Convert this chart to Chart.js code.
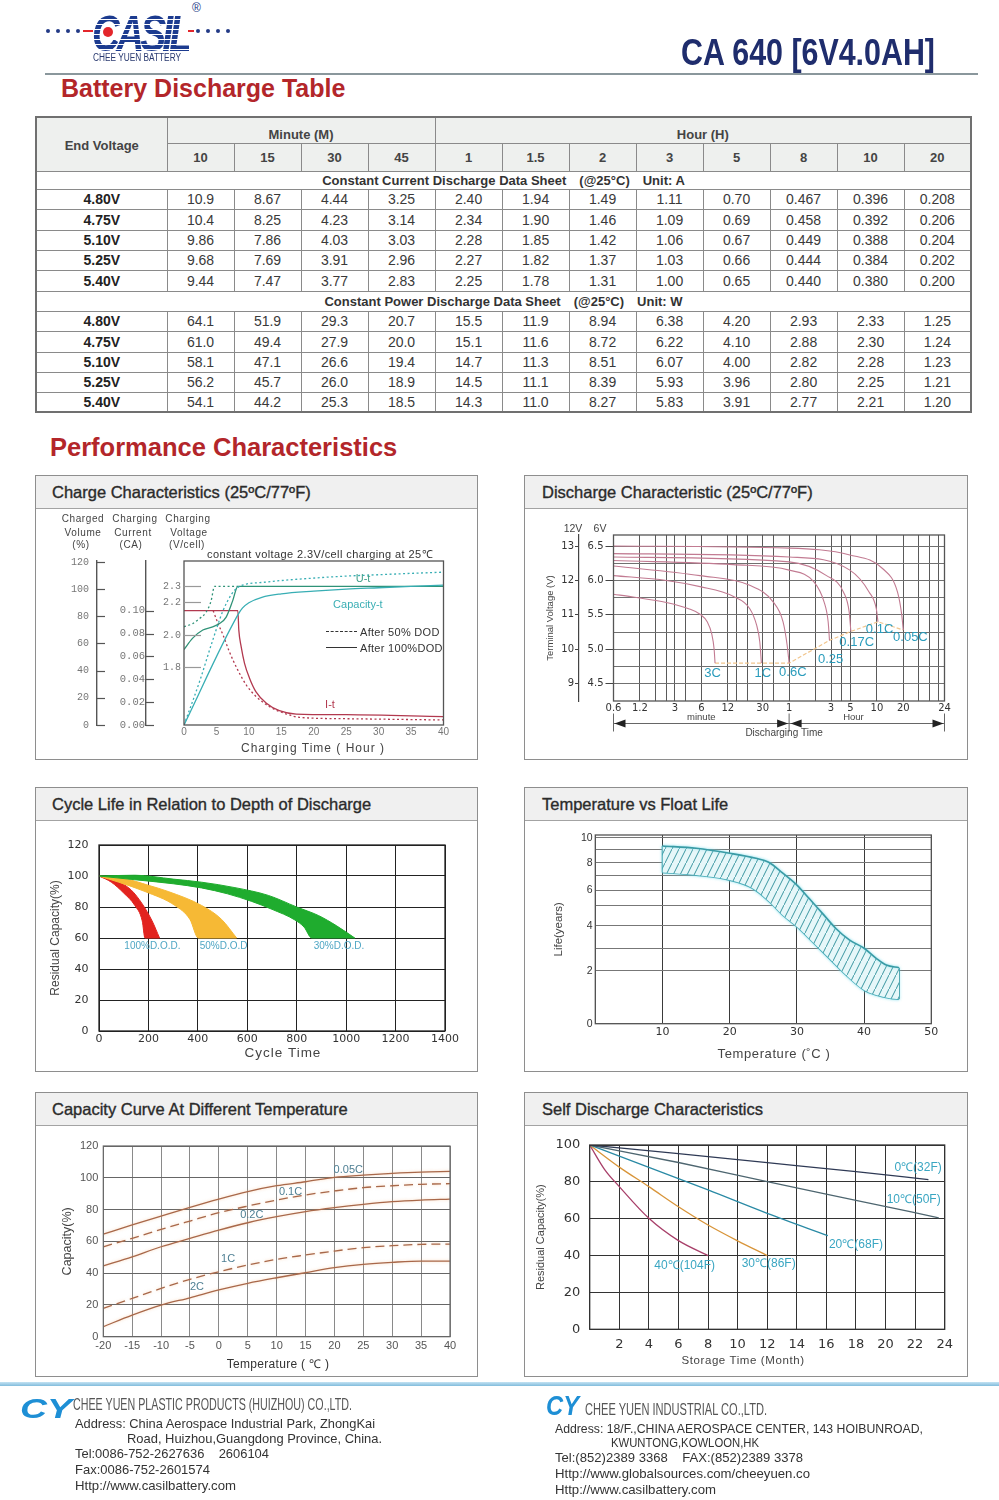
<!DOCTYPE html>
<html>
<head>
<meta charset="utf-8">
<title>CA 640 [6V4.0AH] Battery Discharge Table</title>
<script src="https://cdn.jsdelivr.net/npm/chart.js@4.4.1/dist/chart.umd.min.js"></script>
<style>
body{margin:0;background:#fff;font-family:'Liberation Sans',Arial,sans-serif;color:#333}
#page{position:relative;width:999px;height:1500px;overflow:hidden}
.a{position:absolute;white-space:nowrap;line-height:1}
.c{transform:translate(-50%,-50%)}
.m{transform:translateY(-50%)}
.dot{position:absolute;width:4px;height:4px;border-radius:50%;background:#233a86}
.panel{position:absolute;height:285px;border:1px solid #8e8e8e;box-sizing:border-box}
.panel .hd{height:33px;background:#f0f0f0;border-bottom:1px solid #a3a3a3;box-sizing:border-box;font-size:16.5px;line-height:32px;padding-left:16px;color:#2b2b2b;-webkit-text-stroke:.35px #2b2b2b}
.L{left:35px;width:443px}
.R{left:524px;width:444px}
.R .hd{padding-left:17px}
canvas{position:absolute}
.sm{font-size:10px;letter-spacing:.6px;color:#444}
.ft{font-size:13px;color:#333}
#tbl{position:absolute;left:35px;top:116px;width:935px;border-collapse:collapse;table-layout:fixed;border:2px solid #707070;font-size:14px;color:#3a3a3a}
#tbl td{border:1px solid #8a8a8a;text-align:center;padding:0}
#tbl tr.h td{background:#eef0ee;font-size:13px;font-weight:bold;color:#444}
#tbl tr.s td{font-size:13px;font-weight:bold;color:#333}
#tbl tr.s span{margin-left:13px}
#tbl td.v{font-weight:bold;color:#222}
</style>
</head>
<body>
<div id="page">

  <!-- logo -->
  <div class="dot" style="left:46px;top:29px"></div>
  <div class="dot" style="left:56px;top:29px"></div>
  <div class="dot" style="left:66px;top:29px"></div>
  <div class="dot" style="left:76px;top:29px"></div>
  <div class="a" style="left:83px;top:30px;width:10px;height:2px;background:#e3262b"></div>
  <div class="a" style="left:188px;top:30px;width:6px;height:2px;background:#e3262b"></div>
  <div class="dot" style="left:196px;top:29px"></div>
  <div class="dot" style="left:206px;top:29px"></div>
  <div class="dot" style="left:216px;top:29px"></div>
  <div class="dot" style="left:226px;top:29px"></div>
  <div class="a" data-w="97" style="left:92px;top:5px;font:italic bold 50px 'Liberation Sans';letter-spacing:-5px;background:repeating-linear-gradient(#1c3b8f 0 4px,#fff 4px 5px);-webkit-background-clip:text;background-clip:text;color:transparent">CASIL</div>
  <div class="a" style="left:103px;top:27px;width:10px;height:10px;border-radius:50%;background:#e3262b"></div>
  <div class="a" style="left:192px;top:2px;font-size:12px;color:#233a86">®</div>
  <div class="a" data-w="88" style="left:93px;top:53px;font-size:10px;color:#2a3a70">CHEE YUEN BATTERY</div>

  <div class="a" data-w="254" style="left:681px;top:35px;font-weight:bold;font-size:36px;color:#1f2d6d">CA 640 [6V4.0AH]</div>
  <div class="a" style="left:45px;top:73px;width:933px;height:2px;background:#8a979c"></div>

  <div class="a m" style="left:61px;top:88px;font-size:25px;font-weight:bold;color:#b3262a">Battery Discharge Table</div>

  <table id="tbl"></table>

  <div class="a m" style="left:50px;top:448px;font-size:25.5px;font-weight:bold;color:#b3262a">Performance Characteristics</div>

  <!-- panels -->
  <div class="panel L" style="top:475px"><div class="hd">Charge Characteristics (25ºC/77ºF)</div></div>
  <div class="panel R" style="top:475px"><div class="hd">Discharge Characteristic (25ºC/77ºF)</div></div>
  <div class="panel L" style="top:787px"><div class="hd">Cycle Life in Relation to Depth of Discharge</div></div>
  <div class="panel R" style="top:787px"><div class="hd">Temperature vs Float Life</div></div>
  <div class="panel L" style="top:1092px"><div class="hd">Capacity Curve At Different Temperature</div></div>
  <div class="panel R" style="top:1092px"><div class="hd">Self Discharge Characteristics</div></div>

  <canvas id="cCharge" width="441" height="250" style="left:36px;top:509px"></canvas>
  <canvas id="cDischarge" width="442" height="250" style="left:525px;top:509px"></canvas>
  <canvas id="cCycle" width="441" height="250" style="left:36px;top:821px"></canvas>
  <canvas id="cFloat" width="442" height="250" style="left:525px;top:821px"></canvas>
  <canvas id="cTemp" width="441" height="250" style="left:36px;top:1126px"></canvas>
  <canvas id="cSelf" width="442" height="250" style="left:525px;top:1126px"></canvas>

  <!-- charge chart texts -->
  <div class="a c sm" style="left:83px;top:519px">Charged</div>
  <div class="a c sm" style="left:83px;top:533px">Volume</div>
  <div class="a c sm" style="left:81px;top:545px">(%)</div>
  <div class="a c sm" style="left:135px;top:519px">Charging</div>
  <div class="a c sm" style="left:133px;top:533px">Current</div>
  <div class="a c sm" style="left:131px;top:545px">(CA)</div>
  <div class="a c sm" style="left:188px;top:519px">Charging</div>
  <div class="a c sm" style="left:189px;top:533px">Voltage</div>
  <div class="a c sm" style="left:187px;top:545px">(V/cell)</div>
  <div class="a c" style="left:320px;top:554px;font-size:11px;letter-spacing:.4px;color:#333">constant voltage 2.3V/cell charging at 25℃</div>
  <div class="a" style="left:326px;top:631px;width:31px;border-top:1.3px dashed #333"></div>
  <div class="a" style="left:326px;top:647px;width:31px;border-top:1.3px solid #333"></div>
  <div class="a m" style="left:360px;top:632px;font-size:11px;letter-spacing:.3px;color:#333">After 50% DOD</div>
  <div class="a m" style="left:360px;top:648px;font-size:11px;letter-spacing:.3px;color:#333">After 100%DOD</div>
  <div class="a c" style="left:313px;top:748px;font-size:12px;letter-spacing:1px;color:#444">Charging Time ( Hour )</div>

  <div class="a c" style="left:573px;top:528px;font-size:10.5px;color:#444">12V</div>
  <div class="a c" style="left:600px;top:528px;font-size:10.5px;color:#444">6V</div>

  <div class="a c" style="left:283px;top:1053px;font-size:13.5px;letter-spacing:1px;color:#444">Cycle Time</div>
  <div class="a c" style="left:774px;top:1053px;font-size:13px;letter-spacing:.6px;color:#444">Temperature (˚C )</div>
  <div class="a c" style="left:278px;top:1364px;font-size:12px;letter-spacing:.3px;color:#333">Temperature ( ℃ )</div>
  <div class="a c" style="left:743px;top:1361px;font-size:11.5px;letter-spacing:.6px;color:#444">Storage Time (Month)</div>

  <!-- footer -->
  <div class="a" style="left:0;top:1382px;width:999px;height:4px;background:linear-gradient(#c4e2f2,#82bcdc)"></div>
  <div class="a" data-w="52" style="left:20px;top:1393px;font:italic bold 28px 'Liberation Sans';color:#1e8fd5">CY</div>
  <div class="a" data-w="279" style="left:73px;top:1396px;font-size:17px;color:#555">CHEE YUEN PLASTIC PRODUCTS (HUIZHOU) CO.,LTD.</div>
  <div class="a ft" data-w="300" style="left:75px;top:1417px">Address: China Aerospace Industrial Park, ZhongKai</div>
  <div class="a ft" data-w="255" style="left:127px;top:1432px">Road, Huizhou,Guangdong Province, China.</div>
  <div class="a ft" data-w="194" style="left:75px;top:1447px">Tel:0086-752-2627636&nbsp;&nbsp;&nbsp;&nbsp;2606104</div>
  <div class="a ft" data-w="135" style="left:75px;top:1463px">Fax:0086-752-2601574</div>
  <div class="a ft" data-w="161" style="left:75px;top:1479px">Http://www.casilbattery.com</div>

  <div class="a" data-w="33" style="left:546px;top:1390px;font:italic bold 28px 'Liberation Sans';color:#1e8fd5">CY</div>
  <div class="a" data-w="182" style="left:585px;top:1401px;font-size:17px;color:#555">CHEE YUEN INDUSTRIAL CO.,LTD.</div>
  <div class="a ft" data-w="368" style="left:555px;top:1422px">Address: 18/F.,CHINA AEROSPACE CENTER, 143 HOIBUNROAD,</div>
  <div class="a ft" data-w="148" style="left:611px;top:1436px">KWUNTONG,KOWLOON,HK</div>
  <div class="a ft" data-w="248" style="left:555px;top:1451px">Tel:(852)2389 3368&nbsp;&nbsp;&nbsp;&nbsp;FAX:(852)2389 3378</div>
  <div class="a ft" data-w="255" style="left:555px;top:1467px">Http://www.globalsources.com/cheeyuen.co</div>
  <div class="a ft" data-w="161" style="left:555px;top:1483px">Http://www.casilbattery.com</div>
</div>

<script>
// discharge table
const minuteCols = ['10', '15', '30', '45'];
const hourCols = ['1', '1.5', '2', '3', '5', '8', '10', '20'];
const endVoltages = ['4.80V', '4.75V', '5.10V', '5.25V', '5.40V'];
const currentA = [
  ['10.9', '8.67', '4.44', '3.25', '2.40', '1.94', '1.49', '1.11', '0.70', '0.467', '0.396', '0.208'],
  ['10.4', '8.25', '4.23', '3.14', '2.34', '1.90', '1.46', '1.09', '0.69', '0.458', '0.392', '0.206'],
  ['9.86', '7.86', '4.03', '3.03', '2.28', '1.85', '1.42', '1.06', '0.67', '0.449', '0.388', '0.204'],
  ['9.68', '7.69', '3.91', '2.96', '2.27', '1.82', '1.37', '1.03', '0.66', '0.444', '0.384', '0.202'],
  ['9.44', '7.47', '3.77', '2.83', '2.25', '1.78', '1.31', '1.00', '0.65', '0.440', '0.380', '0.200']
];
const powerW = [
  ['64.1', '51.9', '29.3', '20.7', '15.5', '11.9', '8.94', '6.38', '4.20', '2.93', '2.33', '1.25'],
  ['61.0', '49.4', '27.9', '20.0', '15.1', '11.6', '8.72', '6.22', '4.10', '2.88', '2.30', '1.24'],
  ['58.1', '47.1', '26.6', '19.4', '14.7', '11.3', '8.51', '6.07', '4.00', '2.82', '2.28', '1.23'],
  ['56.2', '45.7', '26.0', '18.9', '14.5', '11.1', '8.39', '5.93', '3.96', '2.80', '2.25', '1.21'],
  ['54.1', '44.2', '25.3', '18.5', '14.3', '11.0', '8.27', '5.83', '3.91', '2.77', '2.21', '1.20']
];

// charge characteristics (hours / % / V per cell / CA)
const chargeHourTicks = [0, 5, 10, 15, 20, 25, 30, 35, 40];
const volumeTicks = [0, 20, 40, 60, 80, 100, 120];
const currentTicks = [0, 0.02, 0.04, 0.06, 0.08, 0.10];
const cellVoltTicks = [1.8, 2.0, 2.2, 2.3];
const capHours100 = [0, 8.3, 9, 10, 12, 15, 20, 25, 30, 35, 40];
const capPct100 = [0, 81, 86, 90, 94, 96.5, 98.5, 100, 101, 102, 103];
const capHours50 = [0, 2.4, 4.4, 6, 7.3, 8.3, 9.6, 12.2, 14.7, 19.9, 25, 30, 35, 40];
const capPct50 = [0, 32, 62, 84, 96, 101.3, 103.7, 105, 106.2, 108.1, 109.6, 110.6, 111.6, 112.5];
const voltHours100 = [0, 1.34, 2.9, 4.43, 5.46, 6.5, 7.5, 8.3, 40];
const volt100 = [1.91, 1.98, 2.03, 2.05, 2.07, 2.11, 2.21, 2.3, 2.3];
const voltHours50 = [0, 1.34, 2.37, 3.4, 4.18, 4.7, 8.3];
const volt50 = [2.05, 2.07, 2.1, 2.14, 2.21, 2.3, 2.3];
const currHours100 = [0, 8.3, 8.45, 8.81, 9.33, 10.1, 11.1, 12.7, 14.7, 17.3, 25, 40];
const curr100 = [0.1, 0.1, 0.083, 0.0685, 0.054, 0.041, 0.029, 0.019, 0.0125, 0.0096, 0.009, 0.0073];
const currHours50 = [4.5, 5.3, 6, 7, 8.3, 9.6, 11.1, 13.2, 15.8, 17.8, 25, 40];
const curr50 = [0.1, 0.088, 0.079, 0.064, 0.048, 0.035, 0.025, 0.016, 0.0096, 0.0067, 0.0055, 0.0044];
const chargeNoteText = ['U-t', 'Capacity-t', 'I-t'];
const chargeNoteHours = [27.6, 26.8, 22.5];
const chargeNoteVolume = [107.2, 88.1, 14.7];

// discharge characteristics (minutes / V per 6V block)
const dischargeGridMin = [0.6, 1.2, 1.8, 2.4, 3, 4, 6, 12, 15, 20, 30, 40, 60, 120, 180, 240, 300, 600, 1200, 1800, 2400, 3000, 3530];
const dischargeLabelAt = [0.6, 1.2, 3, 6, 12, 30, 60, 180, 300, 600, 1200, 3530];
const dischargeLabelText = ['0.6', '1.2', '3', '6', '12', '30', '1', '3', '5', '10', '20', '24'];
const blockVoltGrid = [4.5, 4.75, 5, 5.25, 5.5, 5.75, 6, 6.25, 6.5];
const doubleVoltTicks = [9, 10, 11, 12, 13];
const rateMin = [
  [0.6, 1.0, 2.4, 4.3, 5.8, 7.0, 7.9, 8.4, 8.6],
  [0.6, 2.4, 5.8, 13.8, 21.4, 25.6, 27.8, 29],
  [0.6, 5.8, 21.4, 39.4, 51.2, 57, 60],
  [0.6, 13.8, 60, 115, 150, 167, 173],
  [0.6, 60, 160, 250, 290, 303],
  [0.6, 60, 295, 490, 590, 617],
  [0.6, 60, 295, 700, 1030, 1150, 1197]
];
const rateVolt = [
  [5.80, 5.76, 5.68, 5.59, 5.51, 5.40, 5.22, 5.0, 4.80],
  [6.07, 6.0, 5.91, 5.77, 5.59, 5.35, 5.11, 4.80],
  [6.21, 6.07, 5.93, 5.69, 5.40, 5.06, 4.80],
  [6.29, 6.23, 6.15, 5.98, 5.69, 5.40, 5.13],
  [6.34, 6.27, 6.07, 5.83, 5.54, 5.26],
  [6.39, 6.34, 6.15, 5.83, 5.59, 5.40],
  [6.50, 6.47, 6.37, 6.17, 5.83, 5.50, 5.28]
];
const cutoffMin = [8.6, 29, 60, 173, 303, 617, 1197];
const cutoffVolt = [4.80, 4.80, 4.80, 5.13, 5.26, 5.40, 5.28];
const rateNames = ['3C', '1C', '0.6C', '0.25', '0.17C', '0.1C', '0.05C'];
const rateNoteMin = [8.04, 30.1, 66.1, 178, 353, 643, 1444];
const rateNoteVolt = [4.655, 4.655, 4.67, 4.86, 5.10, 5.29, 5.18];

// cycle life (cycles / residual %)
const cycleTicks = [0, 200, 400, 600, 800, 1000, 1200, 1400];
const residualTicks = [0, 20, 40, 60, 80, 100, 120];
const dod30UpperCycles = [0, 145, 300, 415, 550, 685, 800, 888, 960, 1035];
const dod30UpperPct = [100, 100.5, 98, 96, 92.5, 87.5, 80, 74.5, 68, 60];
const dod30LowerCycles = [0, 145, 300, 415, 520, 618, 700, 793, 830, 861, 1035];
const dod30LowerPct = [100, 97.6, 95, 92.3, 88.5, 83.6, 78.5, 71.6, 67, 60, 60];
const dod50UpperCycles = [0, 100, 200, 280, 415, 496, 557];
const dod50UpperPct = [100, 98.5, 94, 90, 81, 72, 60];
const dod50LowerCycles = [0, 80, 186, 307, 368, 402, 557];
const dod50LowerPct = [100, 96, 90, 81, 72, 60, 60];
const dod100UpperCycles = [0, 70, 130, 175, 215, 245];
const dod100UpperPct = [100, 97, 91, 82, 71, 60];
const dod100LowerCycles = [0, 50, 100, 145, 175, 186, 245];
const dod100LowerPct = [100, 96, 89, 81, 71, 60, 60];
const dodNames = ['100%D.O.D.', '50%D.O.D', '30%D.O.D.'];
const dodNoteCycles = [216, 504, 971];
const dodNotePct = [54.8, 54.8, 54.8];

// float life (°C / years)
const floatTempTicks = [0, 10, 20, 30, 40, 50];
const lifeGrid = [0, 2, 3, 4, 5, 6, 7, 8, 9, 10];
const lifeStops = [[0, 0], [2, 0.281], [3, 0.4], [4, 0.519], [5, 0.625], [6, 0.707], [7, 0.784], [8, 0.852], [9, 0.924], [10, 0.986], [10.2, 1]];
const floatUpperTemp = [10, 15, 20, 23.9, 25.8, 27.9, 30, 31.8, 33.8, 35.8, 37.8, 40, 41.8, 43.3, 45.2];
const floatUpperLife = [9.29, 9.09, 8.71, 8.34, 8.05, 7.2, 6.36, 5.48, 4.62, 3.88, 3.37, 3.0, 2.55, 2.25, 2.13];
const floatLowerTemp = [10, 15, 20, 23.4, 25.9, 27.9, 30, 32.3, 34.8, 37.3, 40, 41.8, 43.8, 45.2];
const floatLowerLife = [7.26, 7.05, 6.70, 6.14, 5.26, 4.53, 3.96, 3.29, 2.55, 1.84, 1.27, 1.08, 0.96, 0.92];

// capacity vs temperature (°C / %)
const capTemps = [-20, -15, -10, -5, 0, 5, 10, 15, 20, 25, 30, 35, 40];
const capacityTicks = [0, 20, 40, 60, 80, 100, 120];
const cap005C = [64.6, 70.3, 75.9, 81.4, 86.6, 91.3, 95.0, 97.5, 100.3, 101.7, 102.8, 103.6, 104.0];
const cap01C = [56.6, 61.9, 67.5, 72.8, 78.0, 82.2, 86.0, 89.2, 91.7, 93.8, 95.0, 95.9, 96.3];
const cap02C = [44.5, 50.3, 56.6, 61.9, 67.1, 71.7, 75.5, 78.7, 81.2, 83.3, 85.0, 86.0, 86.6];
const cap1C = [17.8, 24.1, 30.4, 36.1, 40.9, 45.1, 48.7, 51.4, 53.9, 56.0, 57.3, 58.1, 58.3];
const cap2C = [6.3, 13.6, 19.9, 24.5, 29.4, 33.6, 37.1, 40.3, 43.4, 45.5, 46.8, 47.6, 47.6];
const capNames = ['0.05C', '0.1C', '0.2C', '1C', '2C'];
const capNoteTemp = [22.4, 12.4, 5.7, 1.6, -3.8];
const capNotePct = [104.9, 91.3, 76.4, 49.0, 31.3];

// self discharge (months / %)
const monthTicks = [0, 2, 4, 6, 8, 10, 12, 14, 16, 18, 20, 22, 24];
const selfTicks = [0, 20, 40, 60, 80, 100];
const sd0Months = [0, 6, 12, 18, 22.9];
const sd0Pct = [100, 95.3, 90.4, 85.6, 81.2];
const sd10Months = [0, 6, 12, 18, 23.6];
const sd10Pct = [100, 90.5, 80.1, 70.0, 60.5];
const sd20Months = [0, 2, 4, 8, 12, 16.1];
const sd20Pct = [100, 94, 87.9, 75.6, 62.9, 50.8];
const sd30Months = [0, 2, 4, 6, 8, 10, 12];
const sd30Pct = [100, 88, 77.4, 66.5, 56.6, 48, 40];
const sd40Months = [0, 1, 2, 4, 6, 8];
const sd40Pct = [100, 86.8, 77.4, 60.2, 48.1, 40];
const sdNames = ['0℃(32F)', '10℃(50F)', '20℃(68F)', '30℃(86F)', '40℃(104F)'];
const sdNoteMonths = [22.2, 21.9, 18.0, 12.1, 6.42];
const sdNotePct = [87.9, 70.2, 45.7, 35.4, 34.5];

// ---------- table ----------
const tbl = document.getElementById('tbl');
const rowsOf = (vals, hs) => vals.map((r, i) =>
  `<tr style="height:${hs[i]}px"><td class="v">${endVoltages[i]}</td>` + r.map(v => `<td>${v}</td>`).join('') + '</tr>').join('');
let html = '<colgroup><col style="width:131px">' + '<col style="width:67px">'.repeat(12) + '</colgroup>';
html += '<tr class="h" style="height:26px"><td rowspan="2" style="padding-top:3px">End Voltage</td><td colspan="4" style="padding-top:8px">Minute (M)</td><td colspan="8" style="padding-top:8px">Hour (H)</td></tr>';
html += '<tr class="h" style="height:28px">' + minuteCols.concat(hourCols).map(c => `<td>${c}</td>`).join('') + '</tr>';
html += '<tr class="s" style="height:18px"><td colspan="13">Constant Current Discharge Data Sheet<span>(@25°C)</span><span>Unit: A</span></td></tr>';
html += rowsOf(currentA, [20, 21, 20, 20, 21]);
html += '<tr class="s" style="height:20px"><td colspan="13">Constant Power Discharge Data Sheet<span>(@25°C)</span><span>Unit: W</span></td></tr>';
html += rowsOf(powerW, [20, 21, 20, 20, 20]);
tbl.innerHTML = html;

// ---------- shrink condensed texts ----------
document.querySelectorAll('[data-w]').forEach(el => {
  const w = el.getBoundingClientRect().width;
  el.style.transformOrigin = 'left center';
  el.style.transform = 'scaleX(' + (+el.dataset.w / w) + ')';
});

// ---------- chart helpers ----------
Chart.defaults.font.family = "'Liberation Sans', Arial, sans-serif";
Chart.defaults.color = '#444';
Chart.defaults.animation = false;
Chart.defaults.events = [];
Chart.defaults.responsive = false;
Chart.defaults.maintainAspectRatio = false;
Chart.defaults.plugins.legend.display = false;
Chart.defaults.plugins.tooltip.enabled = false;
Chart.defaults.elements.point.radius = 0;
Chart.defaults.elements.line.borderWidth = 1.3;

class StopScale extends Chart.LinearScale {
  static id = 'stops';
  static defaults = {};
  frac(v) {
    const s = lifeStops;
    if (v <= s[0][0]) return s[0][1];
    for (let i = 1; i < s.length; i++) {
      if (v <= s[i][0]) return s[i - 1][1] + (v - s[i - 1][0]) / (s[i][0] - s[i - 1][0]) * (s[i][1] - s[i - 1][1]);
    }
    return s[s.length - 1][1];
  }
  getPixelForValue(v) { return this.getPixelForDecimal(this.frac(v)); }
  getValueForPixel(p) {
    const d = this.getDecimalForPixel(p), s = lifeStops;
    for (let i = 1; i < s.length; i++) {
      if (d <= s[i][1]) return s[i - 1][0] + (d - s[i - 1][1]) / (s[i][1] - s[i - 1][1]) * (s[i][0] - s[i - 1][0]);
    }
    return s[s.length - 1][0];
  }
}
Chart.register(StopScale);

const pts = (xs, ys) => xs.map((x, i) => ({ x, y: ys[i] }));
const curve = (xs, ys, color, more) => Object.assign({
  data: pts(xs, ys), borderColor: color, backgroundColor: color, fill: false, cubicInterpolationMode: 'monotone'
}, more);
const fixTicks = vals => s => { s.ticks = vals.map(v => ({ value: v })); };
const setW = w => s => { s.width = w; };
const setH = h => s => { s.height = h; };
const plain = v => String(v);

const frame = (color, lw) => ({
  id: 'frame',
  afterDraw(chart) {
    const { ctx, chartArea: a } = chart;
    ctx.save();
    ctx.strokeStyle = color;
    ctx.lineWidth = lw;
    ctx.strokeRect(a.left, a.top, a.right - a.left, a.bottom - a.top);
    ctx.restore();
  }
});

const notes = (texts, xs, ys, font, color, yId) => ({
  id: 'notes',
  afterDatasetsDraw(chart) {
    const ctx = chart.ctx;
    ctx.save();
    ctx.font = font;
    ctx.textAlign = 'center';
    ctx.textBaseline = 'middle';
    texts.forEach((t, i) => {
      ctx.fillStyle = Array.isArray(color) ? color[i] : color;
      ctx.fillText(t, chart.scales.x.getPixelForValue(xs[i]), chart.scales[yId || 'y'].getPixelForValue(ys[i]));
    });
    ctx.restore();
  }
});

const glow = (color, blur) => ({
  id: 'glow',
  beforeDatasetsDraw(chart) { chart.ctx.save(); chart.ctx.shadowColor = color; chart.ctx.shadowBlur = blur; },
  afterDatasetsDraw(chart) { chart.ctx.restore(); }
});

// tick marks that point into the plot, as on the charge chart
const inwardTicks = (ids, lens, colors) => ({
  id: 'inwardTicks',
  afterDraw(chart) {
    const ctx = chart.ctx;
    ctx.save();
    ctx.lineWidth = 1.2;
    ids.forEach((id, k) => {
      const s = chart.scales[id];
      ctx.strokeStyle = colors[k];
      s.ticks.forEach((t, i) => {
        const y = Math.round(s.getPixelForTick(i)) + 0.5;
        ctx.beginPath();
        ctx.moveTo(s.right, y);
        ctx.lineTo(s.right + lens[k], y);
        ctx.stroke();
      });
    });
    ctx.restore();
  }
});

const tickFont = (size, family) => ({ size, family: family || "'Liberation Sans', Arial, sans-serif" });
const noGrid = { display: false, drawTicks: false };

// ---------- 1. charge characteristics ----------
new Chart(document.getElementById('cCharge'), {
  type: 'line',
  data: { datasets: [
    curve(capHours100, capPct100, '#38aeb4', { yAxisID: 'yv' }),
    curve(capHours50, capPct50, '#38aeb4', { yAxisID: 'yv', borderDash: [2, 2.5] }),
    curve(voltHours100, volt100, '#2f9277', { yAxisID: 'yu' }),
    curve(voltHours50, volt50, '#2f9277', { yAxisID: 'yu', borderDash: [2, 2.5] }),
    curve(currHours100, curr100, '#b2394f', { yAxisID: 'yi' }),
    curve(currHours50, curr50, '#b2394f', { yAxisID: 'yi', borderDash: [2, 2.5] })
  ] },
  options: {
    layout: { padding: { left: 0, right: 33.5, top: 52, bottom: 0 } },
    scales: {
      x: { type: 'linear', min: 0, max: 40, bounds: 'data', afterBuildTicks: fixTicks(chargeHourTicks), afterFit: setH(34),
        grid: noGrid, border: { display: false }, ticks: { color: '#777', font: tickFont(10), padding: 1, callback: plain } },
      yv: { axis: 'y', position: 'left', weight: 2, min: 0, max: 120.7, bounds: 'data', afterBuildTicks: fixTicks(volumeTicks), afterFit: setW(61),
        grid: noGrid, border: { display: true, color: '#555', width: 1.4 },
        ticks: { color: '#777', font: tickFont(10, "'Liberation Mono', monospace"), padding: 8, callback: plain } },
      yi: { axis: 'y', position: 'left', weight: 1, min: 0, max: 0.1435, bounds: 'data', afterBuildTicks: fixTicks(currentTicks), afterFit: setW(49),
        grid: noGrid, border: { display: true, color: '#555', width: 1.4 },
        ticks: { color: '#777', font: tickFont(10.5, "'Liberation Mono', monospace"), padding: 1, callback: v => v.toFixed(2) } },
      yu: { axis: 'y', position: 'left', weight: 0, min: 1.444, max: 2.456, bounds: 'data', afterBuildTicks: fixTicks(cellVoltTicks), afterFit: setW(38),
        grid: noGrid, border: { display: false },
        ticks: { color: '#777', font: tickFont(10, "'Liberation Mono', monospace"), padding: 3, callback: v => v.toFixed(1) } }
    }
  },
  plugins: [
    frame('#555', 1.3),
    inwardTicks(['yv', 'yi', 'yu'], [8, 8, 17], ['#555', '#555', '#999']),
    notes(chargeNoteText, chargeNoteHours, chargeNoteVolume, "11px 'Liberation Sans'", ['#3e9f88', '#3aaeb4', '#b2394f'], 'yv')
  ]
});

// ---------- 2. discharge characteristics ----------
const rateColor = '#c27b92';
const timeAxisNotes = {
  id: 'timeAxisNotes',
  afterDraw(chart) {
    const { ctx, chartArea: a } = chart;
    const x = chart.scales.x;
    const x0 = a.left, x1 = x.getPixelForValue(60), x2 = a.right;
    const y = a.bottom + 22.5;
    ctx.save();
    ctx.strokeStyle = '#666';
    ctx.fillStyle = '#222';
    ctx.lineWidth = 1;
    [x0, x1, x2].forEach(px => { ctx.beginPath(); ctx.moveTo(px, y - 10); ctx.lineTo(px, y + 8); ctx.stroke(); });
    ctx.beginPath(); ctx.moveTo(x0, y); ctx.lineTo(x2, y); ctx.stroke();
    const arrow = (tip, dir) => {
      ctx.beginPath(); ctx.moveTo(tip, y); ctx.lineTo(tip - dir * 11, y - 4); ctx.lineTo(tip - dir * 11, y + 4); ctx.closePath(); ctx.fill();
    };
    arrow(x0 + 1, -1); arrow(x1 - 1, 1); arrow(x1 + 1.5, -1); arrow(x2 - 1, 1);
    ctx.fillStyle = '#444';
    ctx.textAlign = 'center';
    ctx.textBaseline = 'middle';
    ctx.font = "9.5px 'Liberation Sans'";
    ctx.fillText('minute', x.getPixelForValue(6), a.bottom + 16.5);
    ctx.fillText('Hour', x.getPixelForValue(300) + 3, a.bottom + 16);
    ctx.font = "10px 'Liberation Sans'";
    ctx.fillText('Discharging Time', x1 - 5, a.bottom + 32.5);
    ctx.restore();
  }
};
new Chart(document.getElementById('cDischarge'), {
  type: 'line',
  data: { datasets: rateMin.map((m, i) => curve(m, rateVolt[i], rateColor, { borderWidth: 1.1 }))
    .concat([curve(cutoffMin, cutoffVolt, '#f1c58c', { borderDash: [4, 2], borderWidth: 1.2, cubicInterpolationMode: 'default', tension: 0 })]) },
  options: {
    layout: { padding: { left: 0, right: 22.5, top: 26, bottom: 0 } },
    scales: {
      x: { type: 'logarithmic', min: 0.6, max: 3530, bounds: 'data', afterBuildTicks: fixTicks(dischargeGridMin), afterFit: setH(58),
        grid: { color: '#5a5a5a', drawTicks: false }, border: { display: false },
        ticks: { autoSkip: false, maxRotation: 0, padding: 1, color: '#333', font: tickFont(10, "'DejaVu Sans'"),
          callback: v => { const i = dischargeLabelAt.indexOf(v); return i < 0 ? '' : dischargeLabelText[i]; } } },
      y: { position: 'left', weight: 0, min: 4.25, max: 6.66, bounds: 'data', afterBuildTicks: fixTicks(blockVoltGrid), afterFit: setW(34.5),
        grid: { color: '#707070', tickLength: 8,
          tickColor: c => (c.tick && Math.abs(c.tick.value * 2 - Math.round(c.tick.value * 2)) < 1e-6) ? '#444' : 'rgba(0,0,0,0)' },
        border: { display: false },
        ticks: { padding: 2, color: '#333', font: tickFont(10, "'DejaVu Sans'"),
          callback: v => Math.abs(v * 2 - Math.round(v * 2)) < 1e-6 ? v.toFixed(1) : '' } },
      y12: { axis: 'y', position: 'left', weight: 1, min: 8.5, max: 13.32, bounds: 'data', afterBuildTicks: fixTicks(doubleVoltTicks), afterFit: setW(54),
        grid: { drawOnChartArea: false, tickLength: 4, color: '#444' }, border: { display: true, color: '#444', width: 1.2 },
        ticks: { padding: 1, color: '#333', font: tickFont(10, "'DejaVu Sans'"), callback: plain },
        title: { display: true, text: 'Terminal Voltage (V)', font: { size: 9.5 }, color: '#444', padding: { top: 19.6, bottom: 0 } } }
    }
  },
  plugins: [frame('#555', 1.3), timeAxisNotes, notes(rateNames, rateNoteMin, rateNoteVolt, "13px 'Liberation Sans'", '#2a9cbc')]
});

// ---------- 3. cycle life ----------
const band = (xu, yu, xl, yl, color) => [
  curve(xu, yu, color, { fill: '+1', backgroundColor: color, borderWidth: 1 }),
  curve(xl, yl, color, { borderWidth: 1 })
];
new Chart(document.getElementById('cCycle'), {
  type: 'line',
  data: { datasets: [].concat(
    band(dod30UpperCycles, dod30UpperPct, dod30LowerCycles, dod30LowerPct, '#1fac2e'),
    band(dod50UpperCycles, dod50UpperPct, dod50LowerCycles, dod50LowerPct, '#f6b935'),
    band(dod100UpperCycles, dod100UpperPct, dod100LowerCycles, dod100LowerPct, '#e2231f')
  ) },
  options: {
    layout: { padding: { left: 0, right: 32, top: 24, bottom: 0 } },
    scales: {
      x: { type: 'linear', min: 0, max: 1400, bounds: 'data', afterBuildTicks: fixTicks(cycleTicks), afterFit: setH(40),
        grid: { color: '#222', drawTicks: false }, border: { display: false },
        ticks: { padding: 1.5, color: '#333', font: tickFont(11, "'DejaVu Sans'"), callback: plain } },
      y: { min: 0, max: 120, bounds: 'data', afterBuildTicks: fixTicks(residualTicks), afterFit: setW(63),
        grid: { color: '#222', drawTicks: false }, border: { display: false },
        ticks: { padding: 10.5, color: '#333', font: tickFont(11, "'DejaVu Sans'"), callback: plain },
        title: { display: true, text: 'Residual Capacity(%)', font: { size: 12 }, color: '#444', padding: { top: 12.8, bottom: 0 } } }
    }
  },
  plugins: [frame('#222', 1.3), notes(dodNames, dodNoteCycles, dodNotePct, "10px 'Liberation Sans'", '#4fa6c4')]
});

// ---------- 4. temperature vs float life ----------
const hatch = (() => {
  const c = document.createElement('canvas');
  c.width = 7; c.height = 14;
  const g = c.getContext('2d');
  g.fillStyle = '#e6f7f9';
  g.fillRect(0, 0, 7, 14);
  g.strokeStyle = '#3b96a0';
  g.lineWidth = 1;
  g.beginPath(); g.moveTo(-1, 16); g.lineTo(8, -2); g.stroke();
  return g.createPattern(c, 'repeat');
})();
const floatTeal = '#3a9ba5';
new Chart(document.getElementById('cFloat'), {
  type: 'line',
  data: { datasets: [
    curve(floatUpperTemp, floatUpperLife, floatTeal, { fill: '+1', backgroundColor: hatch, borderWidth: 1.6 }),
    curve(floatLowerTemp, floatLowerLife, floatTeal, { borderWidth: 1.6 }),
    curve([floatUpperTemp[0], floatLowerTemp[0]], [floatUpperLife[0], floatLowerLife[0]], floatTeal, { borderWidth: 1.6 }),
    curve([floatUpperTemp[floatUpperTemp.length - 1], floatLowerTemp[floatLowerTemp.length - 1]],
      [floatUpperLife[floatUpperLife.length - 1], floatLowerLife[floatLowerLife.length - 1]], floatTeal, { borderWidth: 1.6 })
  ] },
  options: {
    layout: { padding: { left: 0, right: 35.7, top: 14, bottom: 0 } },
    scales: {
      x: { type: 'linear', min: 0, max: 50, bounds: 'data', afterBuildTicks: fixTicks(floatTempTicks), afterFit: setH(47.3),
        grid: { color: '#3a3a3a', drawTicks: false }, border: { display: false },
        ticks: { padding: 1.5, color: '#333', font: tickFont(11, "'DejaVu Sans'"), callback: v => v === 0 ? '' : String(v) } },
      y: { type: 'stops', min: 0, max: 10.2, bounds: 'data', afterBuildTicks: fixTicks(lifeGrid), afterFit: setW(70.3),
        grid: { color: '#777', drawTicks: false }, border: { display: false },
        ticks: { padding: 2.6, color: '#333', font: tickFont(10.5), callback: v => v % 2 === 0 ? String(v) : '' },
        title: { display: true, text: 'Life(years)', font: { size: 11.5 }, color: '#444', padding: { top: 27.4, bottom: 0 } } }
    }
  },
  plugins: [frame('#555', 1.3), glow('rgba(120,220,235,0.7)', 3)]
});

// ---------- 5. capacity vs temperature ----------
const capColor = '#a8684a';
new Chart(document.getElementById('cTemp'), {
  type: 'line',
  data: { datasets: [
    curve(capTemps, cap005C, capColor),
    curve(capTemps, cap01C, capColor, { borderDash: [9, 5] }),
    curve(capTemps, cap02C, capColor),
    curve(capTemps, cap1C, capColor, { borderDash: [9, 5] }),
    curve(capTemps, cap2C, capColor)
  ] },
  options: {
    layout: { padding: { left: 0, right: 27, top: 20, bottom: 0 } },
    scales: {
      x: { type: 'linear', min: -20, max: 40, bounds: 'data', afterBuildTicks: fixTicks(capTemps), afterFit: setH(39.3),
        grid: { color: '#8a8a8a', drawTicks: false }, border: { display: false },
        ticks: { padding: 2.7, color: '#555', font: tickFont(11), callback: plain } },
      y: { min: 0, max: 120, bounds: 'data', afterBuildTicks: fixTicks(capacityTicks), afterFit: setW(67.3),
        grid: { color: '#666', drawTicks: false }, border: { display: false },
        ticks: { padding: 5, color: '#555', font: tickFont(11), callback: plain },
        title: { display: true, text: 'Capacity(%)', font: { size: 12.5 }, color: '#444', padding: { top: 23.8, bottom: 0 } } }
    }
  },
  plugins: [frame('#666', 1.2), glow('rgba(245,175,115,0.5)', 3), notes(capNames, capNoteTemp, capNotePct, "11px 'Liberation Sans'", '#4e7f93')]
});

// ---------- 6. self discharge ----------
new Chart(document.getElementById('cSelf'), {
  type: 'line',
  data: { datasets: [
    curve(sd0Months, sd0Pct, '#2f3a55'),
    curve(sd10Months, sd10Pct, '#4e6670'),
    curve(sd20Months, sd20Pct, '#2a8aa5'),
    curve(sd30Months, sd30Pct, '#d8953a'),
    curve(sd40Months, sd40Pct, '#a8406a')
  ] },
  options: {
    layout: { padding: { left: 0, right: 22.3, top: 19, bottom: 0 } },
    scales: {
      x: { type: 'linear', min: 0, max: 24, bounds: 'data', afterBuildTicks: fixTicks(monthTicks), afterFit: setH(46.7),
        grid: { color: '#333', drawTicks: false }, border: { display: false },
        ticks: { padding: 8, color: '#333', font: tickFont(13, "'DejaVu Sans'"), callback: v => v === 0 ? '' : String(v) } },
      y: { min: 0, max: 100, bounds: 'data', afterBuildTicks: fixTicks(selfTicks), afterFit: setW(64.7),
        grid: { color: '#333', drawTicks: false }, border: { display: false },
        ticks: { padding: 9.4, color: '#333', font: tickFont(13, "'DejaVu Sans'"), callback: plain },
        title: { display: true, text: 'Residual Capacity(%)', font: { size: 11 }, color: '#444', padding: { top: 9.4, bottom: 0 } } }
    }
  },
  plugins: [frame('#333', 1.3), notes(sdNames, sdNoteMonths, sdNotePct, "12px 'Liberation Sans'", '#3aa6c2')]
});
</script>
</body>
</html>
